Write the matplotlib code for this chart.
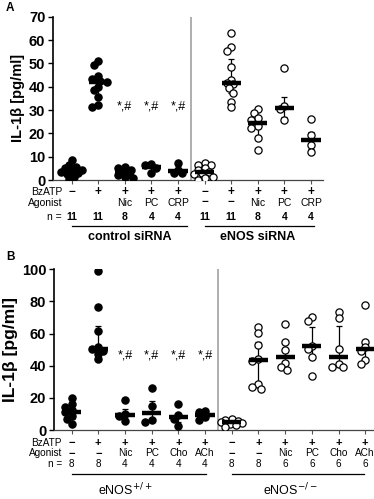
#!/usr/bin/env python3

import matplotlib
matplotlib.use("Agg")
import matplotlib.pyplot as plt
import numpy as np

plt.rcParams["font.family"] = ["Liberation Sans", "DejaVu Sans"]

# panel A data (control siRNA: cats 0-4, eNOS siRNA: cats 5-9)
a_values = [
    [8.6, 6.5, 5.5, 5.0, 4.5, 4.0, 3.5, 3.0, 2.5, 1.5, 0.3],
    [51.0, 49.5, 44.5, 43.5, 42.5, 42.0, 40.0, 38.5, 35.5, 32.0, 31.5],
    [5.5, 5.0, 4.5, 3.5, 2.5, 2.0, 1.2, 0.7],
    [6.9, 6.4, 5.0, 3.0],
    [7.2, 4.5, 3.2, 2.8],
    [7.2, 6.5, 6.4, 5.0, 4.2, 3.3, 3.0, 2.5, 1.5, 1.0, 0.0],
    [63.0, 57.0, 55.3, 48.3, 43.0, 41.4, 41.0, 39.3, 37.4, 33.6, 31.4],
    [30.3, 28.6, 26.4, 25.7, 23.0, 22.1, 17.9, 12.9],
    [48.1, 31.8, 30.3, 25.7],
    [26.0, 19.3, 15.0, 12.1],
]
a_median = [4.0, 42.0, 3.0, 5.7, 3.8, 3.3, 41.4, 24.3, 31.0, 17.1]
a_q1 = [2.5, 35.5, 1.5, 3.5, 3.0, 1.5, 37.4, 19.0, 27.0, 13.5]
a_q3 = [5.5, 44.5, 4.5, 6.5, 6.0, 6.4, 51.7, 27.0, 35.7, 20.7]
a_bzatp = ["\u2212", "+", "+", "+", "+", "\u2212", "+", "+", "+", "+"]
a_agonist = ["", "", "Nic", "PC", "CRP", "\u2212", "\u2212", "Nic", "PC", "CRP"]
a_n = ["11", "11", "8", "4", "4", "11", "11", "8", "4", "4"]
a_groups = ["control siRNA", "eNOS siRNA"]
a_sig = [2, 3, 4]

# panel B data (eNOS+/+: cats 0-5, eNOS-/-: cats 6-11)
b_values = [
    [19.7, 16.0, 14.5, 12.5, 11.0, 9.0, 7.0, 4.0],
    [99.2, 76.8, 61.8, 51.5, 50.2, 49.4, 47.3, 44.0],
    [18.5, 10.0, 8.5, 5.5],
    [26.3, 15.0, 6.0, 5.0],
    [16.0, 9.5, 7.0, 2.5],
    [12.0, 11.0, 8.0, 6.5],
    [6.6, 6.2, 5.5, 5.0, 4.5, 4.0, 3.0, 2.0],
    [64.0, 60.5, 53.0, 44.0, 43.0, 28.5, 27.0, 25.5],
    [66.0, 55.0, 50.0, 41.5, 39.0, 37.5],
    [70.5, 67.8, 52.0, 50.2, 45.2, 33.6],
    [73.7, 69.5, 50.2, 41.0, 39.4, 39.0],
    [77.8, 55.0, 51.5, 49.4, 43.6, 41.0],
]
b_median = [11.4, 50.6, 9.3, 10.4, 8.3, 9.3, 5.2, 43.6, 45.6, 52.3, 45.4, 50.6]
b_q1 = [7.0, 48.0, 6.0, 5.0, 5.0, 7.0, 3.5, 27.0, 39.0, 45.0, 39.5, 43.5]
b_q3 = [15.0, 65.0, 12.9, 18.3, 9.5, 11.5, 6.2, 54.5, 55.0, 63.9, 64.5, 54.0]
b_bzatp = ["\u2212", "+", "+", "+", "+", "+", "\u2212", "+", "+", "+", "+", "+"]
b_agonist = ["\u2212", "\u2212", "Nic", "PC", "Cho", "ACh",
             "\u2212", "\u2212", "Nic", "PC", "Cho", "ACh"]
b_n = ["8", "8", "4", "4", "4", "4", "8", "8", "6", "6", "6", "6"]
b_groups = ["eNOS$^{+/+}$", "eNOS$^{-/-}$"]
b_sig = [2, 3, 4, 5]


def swarm(vals, px_x, px_y, diam=5.0, step=0.08, kmax=5):
    # deterministic beeswarm offsets, points may overlap when crowded
    placed = []
    offs = [0.0] * len(vals)
    order = np.argsort(vals)[::-1]
    cands = [0.0]
    for k in range(1, kmax + 1):
        cands += [-k * step, k * step]
    for i in order:
        best, best_d = 0.0, -1
        for c in cands:
            d = min([np.hypot((c - ox) * px_x, (vals[i] - oy) * px_y)
                     for (ox, oy) in placed] + [99])
            if d >= diam:
                best = c
                break
            if d > best_d:
                best, best_d = c, d
        offs[i] = best
        placed.append((best, vals[i]))
    return offs


def draw_panel(ax, values, median, q1, q3, split, ymax, yticks, px_y, sig, sig_y, ylfs):
    ncat = len(values)
    for i in range(ncat):
        filled = i < split
        offs = swarm(values[i], 26.7, px_y)
        xs = [i + o for o in offs]
        ax.plot(xs, values[i], "o", ms=5.2, mec="black", mew=0.9,
                mfc="black" if filled else "white", ls="none", zorder=3)
        ax.errorbar(i, median[i], yerr=[[median[i] - q1[i]], [q3[i] - median[i]]],
                    fmt="none", ecolor="black", elinewidth=0.9, capsize=2.5,
                    capthick=0.9, zorder=2)
        ax.plot([i - 0.36, i + 0.36], [median[i], median[i]], color="black",
                lw=3.2, solid_capstyle="butt", zorder=4)
    for i in sig:
        ax.text(i, sig_y, "*,#", ha="center", va="center", fontsize=9)
    ax.axvline(split - 0.5, color="#a8a8a8", lw=1.3, zorder=1)
    ax.set_ylim(0, ymax)
    ax.set_yticks(yticks)
    ax.set_yticklabels([str(t) for t in yticks], fontsize=10.5, fontweight="bold")
    ax.set_xticks(range(ncat))
    ax.set_xticklabels([])
    ax.tick_params(axis="x", length=3, width=0.8, color="#555555")
    ax.tick_params(axis="y", length=3.5, width=1.0, pad=2)
    for s in ["top", "right"]:
        ax.spines[s].set_visible(False)
    ax.spines["left"].set_linewidth(1.2)
    ax.spines["bottom"].set_linewidth(0.9)
    ax.spines["bottom"].set_color("#444444")
    ax.set_ylabel("IL-1\u03b2 [pg/ml]", fontsize=ylfs, fontweight="bold", labelpad=3)


def draw_table(fig, ax, bzatp, agonist, n, groups, rows_px, line_px, lines,
               label_px, label_x, gweight, nweight, fs, sym_fs):
    H = 499.0
    trans = matplotlib.transforms.blended_transform_factory(ax.transData, fig.transFigure)
    lab_x = -0.36
    names = ["BzATP", "Agonist", "n ="]
    for r, (name, row) in enumerate(zip(names, [bzatp, agonist, n])):
        y = 1 - rows_px[r] / H
        ax.text(lab_x, y, name, transform=trans, ha="right", va="center",
                fontsize=fs, clip_on=False)
        for i, t in enumerate(row):
            sym = t in ["+", "\u2212"]
            fw = "bold" if sym else (nweight if r == 2 else "normal")
            ax.text(i, y, t, transform=trans, ha="center", va="center",
                    fontsize=sym_fs if sym else fs, fontweight=fw, clip_on=False)
    for (x0, x1) in lines:
        ax.plot([x0, x1], [1 - line_px / H] * 2, transform=trans, color="black",
                lw=0.9, clip_on=False)
    for g, x in zip(groups, label_x):
        ax.text(x, 1 - label_px / H, g, transform=trans, ha="center", va="center",
                fontsize=9, fontweight=gweight, clip_on=False)


fig = plt.figure(figsize=(3.74, 4.99), dpi=100)
W, H = 374.0, 499.0

# panel A
axA = fig.add_axes([53 / W, 1 - 180 / H, 270 / W, (180 - 16.7) / H])
draw_panel(axA, a_values, a_median, a_q1, a_q3, 5, 70, list(range(0, 71, 10)),
           2.33, a_sig, 31.5, 10.5)
axA.set_xlim(-0.7, 9.45)
draw_table(fig, axA, a_bzatp, a_agonist, a_n, a_groups,
           [192, 202.5, 217], 226, [(0.0, 4.35), (5.0, 9.1)], 237, [2.2, 7.0],
           "bold", "bold", 7.5, 8.5)

# panel B
axB = fig.add_axes([54 / W, 1 - 430 / H, 320 / W, (430 - 269.3) / H])
draw_panel(axB, b_values, b_median, b_q1, b_q3, 6, 100, list(range(0, 101, 20)),
           1.62, b_sig, 46.5, 12.5)
axB.set_xlim(-0.66, 11.33)
draw_table(fig, axB, b_bzatp, b_agonist, b_n, b_groups,
           [443, 453.5, 464], 473.5, [(0.0, 5.05), (6.0, 10.95)], 490, [2.0, 8.2],
           "normal", "normal", 7.2, 8.0)

fig.text(6 / W, 1 - 8 / H, "A", fontsize=8.5, fontweight="bold", va="center")
fig.text(6 / W, 1 - 257 / H, "B", fontsize=8.5, fontweight="bold", va="center")

fig.savefig("out.png", dpi=100)
